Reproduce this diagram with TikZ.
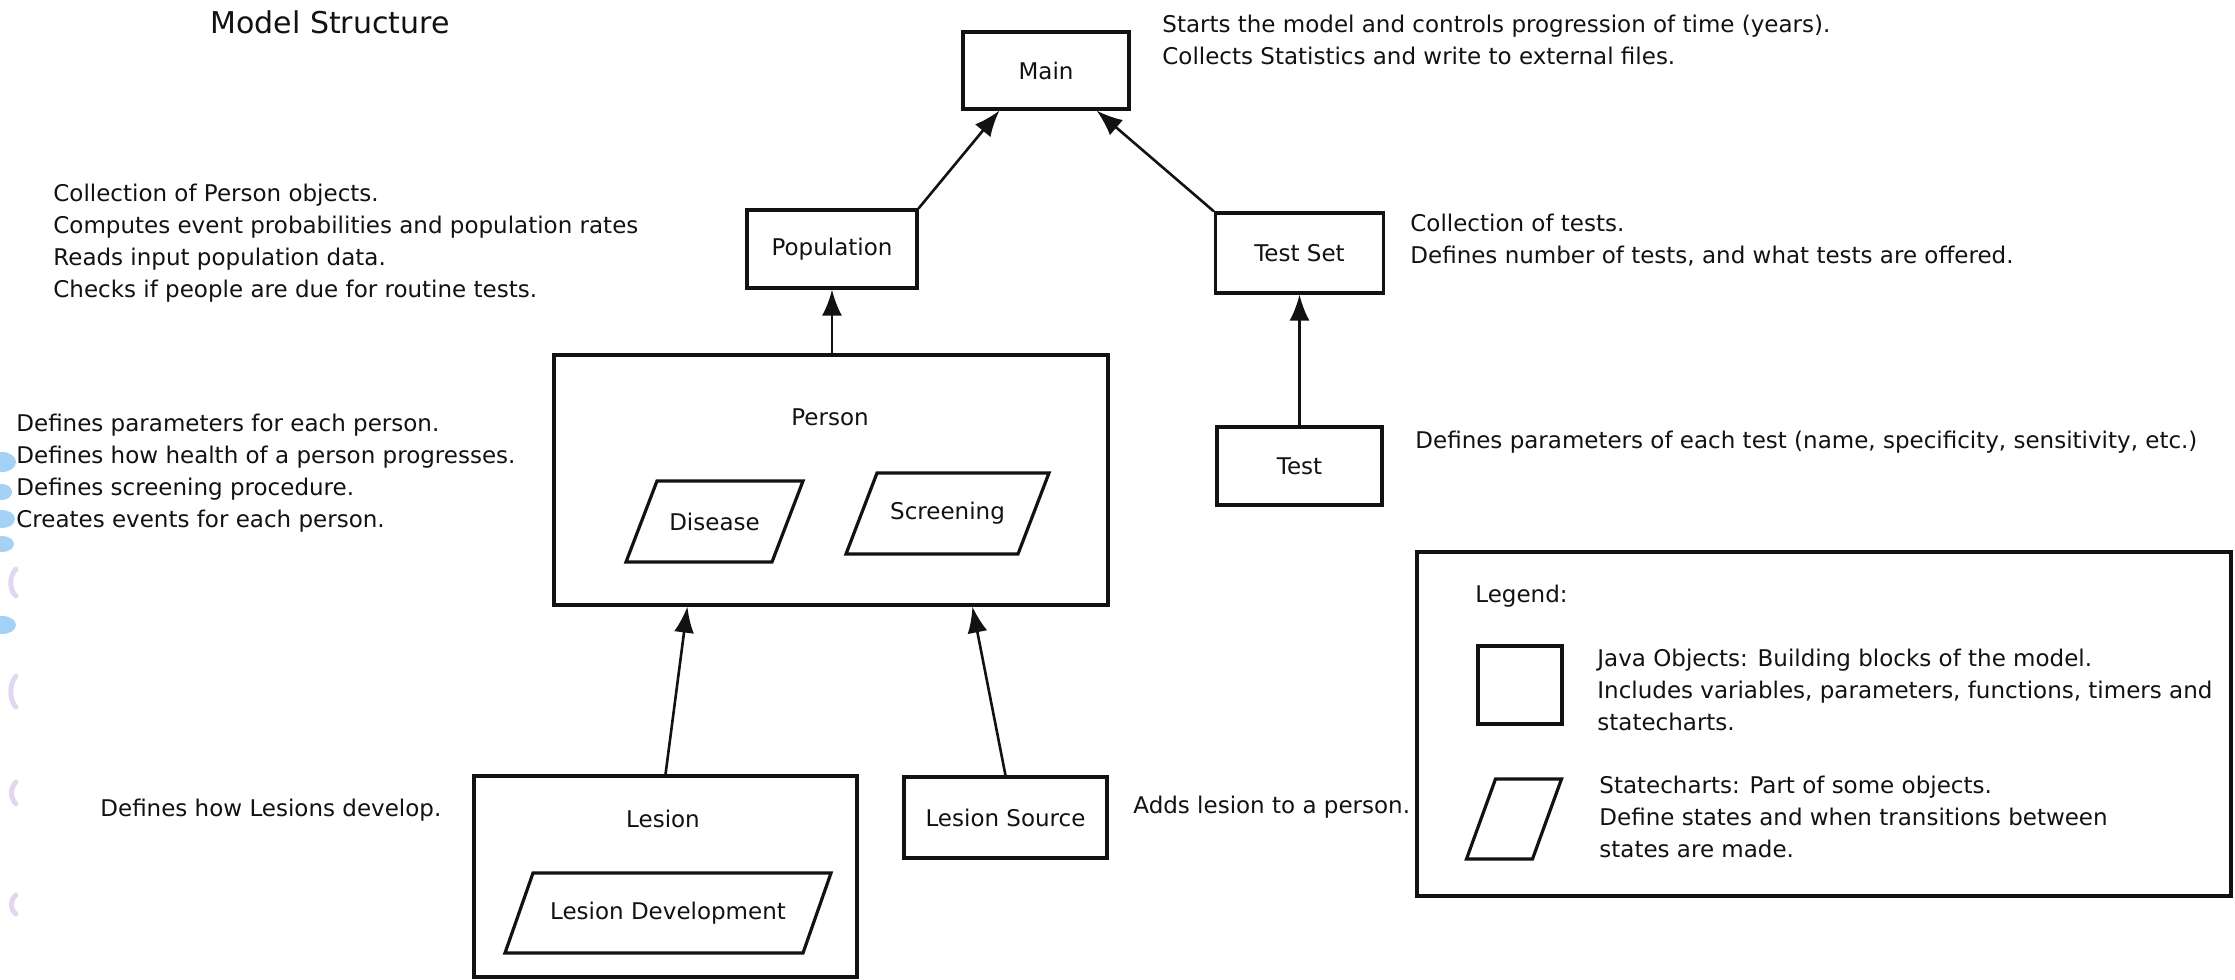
\documentclass[tikz,border=0pt]{standalone}
\usepackage{fontspec}
\setmainfont{DejaVu Sans}
\usetikzlibrary{arrows.meta,calc}

\definecolor{ink}{HTML}{121212}
\definecolor{dotblue}{HTML}{A4D1F6}
\definecolor{dotlav}{HTML}{E2D7F3}

\newcommand\bodyfont{\fontsize{11.5}{16}\selectfont}
\newcommand\headfont{\fontsize{15}{18}\selectfont}

% parallelogram (statechart) drawn around a named centre:
% #1 centre, #2 half width, #3 half height, #4 half slant
\newcommand\slantbox[4]{%
  \draw[objline] ($(#1)+(-#2+#4,-#3)$) -- ($(#1)+(#2+#4,-#3)$)
    -- ($(#1)+(#2-#4,#3)$) -- ($(#1)+(-#2-#4,#3)$) -- cycle;}

\tikzset{
  objline/.style={draw=ink, line width=1.6pt, line join=miter},
  objbox/.style={objline, rectangle, inner sep=0pt, font=\bodyfont, text=ink},
  txt/.style={inner sep=0pt, font=\bodyfont, text=ink},
  desc/.style={txt, align=left, anchor=north west},
  dep/.style={draw=ink, line width=1.3pt, -{Latex[length=13pt,width=10pt]}},
}

\begin{document}
\begin{tikzpicture}[x=0.5pt,y=-0.5pt]
\fill[white] (0,0) rectangle (2235,980);
\useasboundingbox (0,0) rectangle (2235,980);

% faint marks along the left margin
\fill[dotblue] (2,462) ellipse [x radius=14, y radius=10];
\fill[dotblue] (2,492) ellipse [x radius=10, y radius=8];
\fill[dotblue] (2,519) ellipse [x radius=13, y radius=9];
\fill[dotblue] (2,544) ellipse [x radius=12, y radius=8];
\fill[dotblue] (2,625) ellipse [x radius=14, y radius=9];
\draw[dotlav, line width=2.5pt, line cap=round] (16,569) .. controls (9,576) and (9,590) .. (16,596);
\draw[dotlav, line width=2.5pt, line cap=round] (16,676) .. controls (9,684) and (9,700) .. (16,707);
\draw[dotlav, line width=2.5pt, line cap=round] (16,782) .. controls (10,788) and (10,798) .. (16,804);
\draw[dotlav, line width=2.5pt, line cap=round] (16,895) .. controls (10,900) and (10,910) .. (16,914);

% title
\node[txt, font=\headfont, anchor=base west] (title) at (210,33) {Model Structure};

% object boxes
\node[objbox, minimum width=83pt, minimum height=38.5pt] (main) at (1046,70.5) {Main};
\node[objbox, minimum width=85pt, minimum height=39pt] (pop) at (832,249) {Population};
\node[objbox, minimum width=84pt, minimum height=40pt] (tset) at (1299.5,253) {Test Set};
\node[objbox, minimum width=277pt, minimum height=125pt] (person) at (831,480) {};
\node[objbox, minimum width=82.5pt, minimum height=39pt] (test) at (1299.5,466) {Test};
\node[objbox, minimum width=191.5pt, minimum height=100.5pt] (lesion) at (665.5,876.5) {};
\node[objbox, minimum width=101.5pt, minimum height=40.5pt] (lsrc) at (1005.5,817.5) {Lesion Source};

% labels inside the container objects
\node[txt] (personlbl) at (830,417) {Person};
\node[txt] (lesionlbl) at (663,819) {Lesion};

% statecharts
\node[txt] (disease) at (714.5,521.5) {Disease};
\slantbox{disease}{73}{40.5}{15.5}
\node[txt] (screening) at (947.5,513.5) {Screening};
\slantbox{screening}{86}{40.5}{15.5}
\node[txt] (lesdev) at (668,913) {Lesion Development};
\slantbox{lesdev}{149}{40}{14}

% dependencies
\draw[dep] (pop.north east) -- ($(main.south west)+(38,0)$);
\draw[dep] (tset.north west) -- ($(main.south east)+(-34,0)$);
\draw[dep] (pop.south |- person.north) -- (pop.south);
\draw[dep] (test.north) -- (tset.south);
\draw[dep] (lesion.north) -- ($(person.south west)+(135,0)$);
\draw[dep] (lsrc.north) -- ($(person.south west)+(420,0)$);

% descriptions
\node[desc] (maindesc) at (1162,9.6) {\strut Starts the model and controls progression of time (years).\\
  Collects Statistics and write to external files.};
\node[desc] (popdesc) at (53,178.6) {\strut Collection of Person objects.\\
  Computes event probabilities and population rates\\
  Reads input population data.\\
  Checks if people are due for routine tests.};
\node[desc] (tsetdesc) at (1410,208.6) {\strut Collection of tests.\\
  Defines number of tests, and what tests are offered.};
\node[desc] (persondesc) at (16,408.6) {\strut Defines parameters for each person.\\
  Defines how health of a person progresses.\\
  Defines screening procedure.\\
  Creates events for each person.};
\node[txt, anchor=base west] (testdesc) at (1415,448) {Defines parameters of each test (name, specificity, sensitivity, etc.)};
\node[txt, anchor=base west] (lesiondesc) at (100,816) {Defines how Lesions develop.};
\node[txt, anchor=base west] (lsrcdesc) at (1133,813) {Adds lesion to a person.};

% legend
\node[objbox, minimum width=407pt, minimum height=172pt] (legend) at (1824,724) {};
\node[txt, anchor=base west] (legendttl) at (1475,602) {Legend:};
\node[objbox, minimum width=42pt, minimum height=39pt] (legobj) at (1520,685) {};
\node[desc] (legobjdesc) at (1597,643.6) {\strut Java Objects: Building blocks of the model.\\
  Includes variables, parameters, functions, timers and\\
  statecharts.};
\coordinate (legsc) at (1514,819);
\slantbox{legsc}{33}{40}{14.5}
\node[desc] (legscdesc) at (1599,770.6) {\strut Statecharts: Part of some objects.\\
  Define states and when transitions between\\
  states are made.};
\end{tikzpicture}
\end{document}
